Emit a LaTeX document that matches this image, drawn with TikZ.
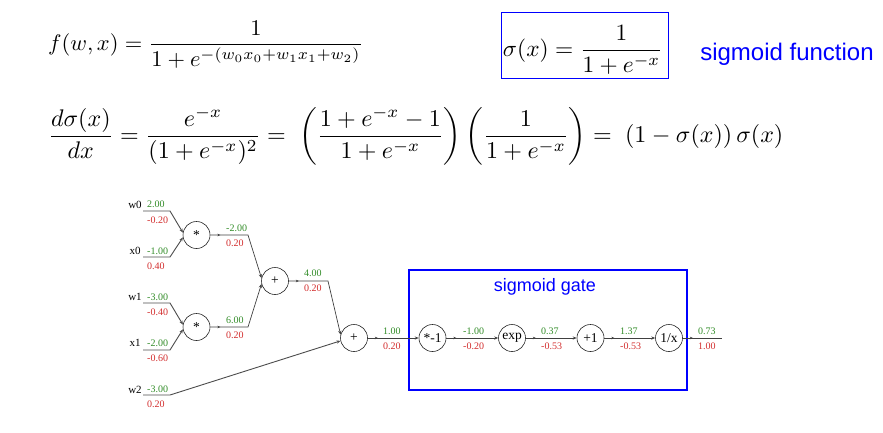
\documentclass[tikz,border=0pt]{standalone}
\usepackage{fontspec}
\usepackage{amsmath}
\usepackage{graphicx}
\usetikzlibrary{arrows.meta,decorations.markings}
\newfontfamily\gfont{Liberation Serif}
\newfontfamily\sfont{Liberation Sans}
\definecolor{gval}{RGB}{50,140,40}
\definecolor{rval}{RGB}{210,45,45}
\definecolor{lblue}{RGB}{0,0,255}
\tikzset{
  gate/.style={circle, draw=black!85, line width=0.6pt, minimum size=27pt, inner sep=0pt, font=\gfont\fontsize{13.5}{14}\selectfont},
  gv/.style={anchor=west, inner sep=0pt, text=gval, font=\gfont\fontsize{10}{11}\selectfont},
  rv/.style={anchor=west, inner sep=0pt, text=rval, font=\gfont\fontsize{10}{11}\selectfont},
  inlab/.style={inner sep=0pt, font=\gfont\fontsize{11}{12}\selectfont},
  edge/.style={draw=black!75, line width=0.7pt, -{Stealth[length=4pt,width=3.2pt]}},
  outedge/.style={draw=black!75, line width=0.7pt},
  midarr/.style={postaction={decorate}, decoration={markings, mark=at position 10pt with {\arrow{Stealth[length=3pt,width=2.6pt]}}}},
  inedge/.style={draw=black!70, line width=0.9pt, -{Stealth[length=4pt,width=3.2pt]}},
}
\begin{document}
\begin{tikzpicture}[x=1pt,y=-1pt]
\useasboundingbox (0,0) rectangle (883,432);
% formulas
\node[anchor=west, inner sep=0pt] (ffx) at (48,44.5) {\resizebox{315pt}{!}{$\displaystyle f(w,x)=\frac{1}{1+e^{-(w_0x_0+w_1x_1+w_2)}}$}};
\node[draw=lblue, line width=0.9pt, minimum width=167pt, minimum height=66pt, inner sep=0pt] (sigbox) at (584.5,45) {};
\node[inner sep=0pt] (sigf) at (583,50) {\resizebox{160pt}{!}{$\displaystyle \sigma(x)=\frac{1}{1+e^{-x}}$}};
\node[inner sep=0pt, text=lblue, font=\sfont\fontsize{24}{26}\selectfont] (sigtxt) at (787,54) {sigmoid function};
\node[anchor=west, inner sep=0pt] (deriv) at (48,136) {\resizebox{735pt}{!}{$\displaystyle \frac{d\sigma(x)}{dx}=\frac{e^{-x}}{(1+e^{-x})^2}=\;\left(\frac{1+e^{-x}-1}{1+e^{-x}}\right)\left(\frac{1}{1+e^{-x}}\right)=\;\left(1-\sigma(x)\right)\sigma(x)$}};
% sigmoid gate box
\node[draw=lblue, line width=1.6pt, minimum width=278pt, minimum height=120pt, inner sep=0pt] (gatebox) at (548,330) {};
\node[inner sep=0pt, text=lblue, font=\sfont\fontsize{18}{20}\selectfont] (gatetxt) at (545,287) {sigmoid gate};
% gates
\node[gate] (m0) at (196.5,235) {*};
\node[gate] (m1) at (196.5,327) {*};
\node[gate] (p0) at (275,281) {+};
\node[gate] (p1) at (354,338) {+};
\node[gate] (n1) at (432.5,338) {*-1};
\node[gate] (ex) at (512,338) {exp};
\node[gate] (a1) at (590.5,338) {+1};
\node[gate] (inv) at (669,338) {1/x};
% input coordinates
\coordinate (w0s) at (143,211); \coordinate (w0k) at (170,211);
\coordinate (x0s) at (143,257); \coordinate (x0k) at (170,257);
\coordinate (w1s) at (143,303); \coordinate (w1k) at (170,303);
\coordinate (x1s) at (143,350); \coordinate (x1k) at (170,350);
\coordinate (w2s) at (143,395); \coordinate (w2k) at (170,395);
\coordinate (k0) at (248,235);
\coordinate (k1) at (248,327);
\coordinate (k2) at (328,281);
\coordinate (out) at (722,338);
% input labels
\node[inlab] (lw0) at (135,205) {w0};
\node[inlab] (lx0) at (135,251) {x0};
\node[inlab] (lw1) at (135,297) {w1};
\node[inlab] (lx1) at (135,343) {x1};
\node[inlab] (lw2) at (135,390) {w2};
% input values
\node[gv] (vw0) at (147,204) {2.00};   \node[rv] (gw0) at (147,220) {-0.20};
\node[gv] (vx0) at (147,251) {-1.00};  \node[rv] (gx0) at (147,266) {0.40};
\node[gv] (vw1) at (147,297) {-3.00};  \node[rv] (gw1) at (147,312) {-0.40};
\node[gv] (vx1) at (147,343) {-2.00};  \node[rv] (gx1) at (147,358) {-0.60};
\node[gv] (vw2) at (147,389) {-3.00};  \node[rv] (gw2) at (147,404) {0.20};
% gate output values
\node[gv] (vm0) at (226,228) {-2.00};  \node[rv] (gm0) at (226,243) {0.20};
\node[gv] (vm1) at (226,320) {6.00};   \node[rv] (gm1) at (226,335) {0.20};
\node[gv] (vp0) at (304,273) {4.00};   \node[rv] (gp0) at (304,288) {0.20};
\node[gv] (vp1) at (383,331) {1.00};   \node[rv] (gp1) at (383,346) {0.20};
\node[gv] (vn1) at (463,331) {-1.00};  \node[rv] (gn1) at (463,346) {-0.20};
\node[gv] (vex) at (541,331) {0.37};   \node[rv] (gex) at (541,346) {-0.53};
\node[gv] (va1) at (620,331) {1.37};   \node[rv] (ga1) at (620,346) {-0.53};
\node[gv] (vin) at (698,331) {0.73};   \node[rv] (gin) at (698,346) {1.00};
% input edges
\draw[inedge] (w0s) -- (w0k) -- (m0.170);
\draw[inedge] (x0s) -- (x0k) -- (m0.190);
\draw[inedge] (w1s) -- (w1k) -- (m1.170);
\draw[inedge] (x1s) -- (x1k) -- (m1.190);
\draw[inedge] (w2s) -- (w2k) -- (p1.192);
% gate edges
\draw[edge,midarr] (m0) -- (k0) -- (p0.168);
\draw[edge,midarr] (m1) -- (k1) -- (p0.192);
\draw[edge,midarr] (p0) -- (k2) -- (p1.166);
\draw[edge,midarr] (p1) -- (n1);
\draw[edge,midarr] (n1) -- (ex);
\draw[edge,midarr] (ex) -- (a1);
\draw[edge,midarr] (a1) -- (inv);
\draw[outedge,midarr] (inv) -- (out);
\end{tikzpicture}
\end{document}
